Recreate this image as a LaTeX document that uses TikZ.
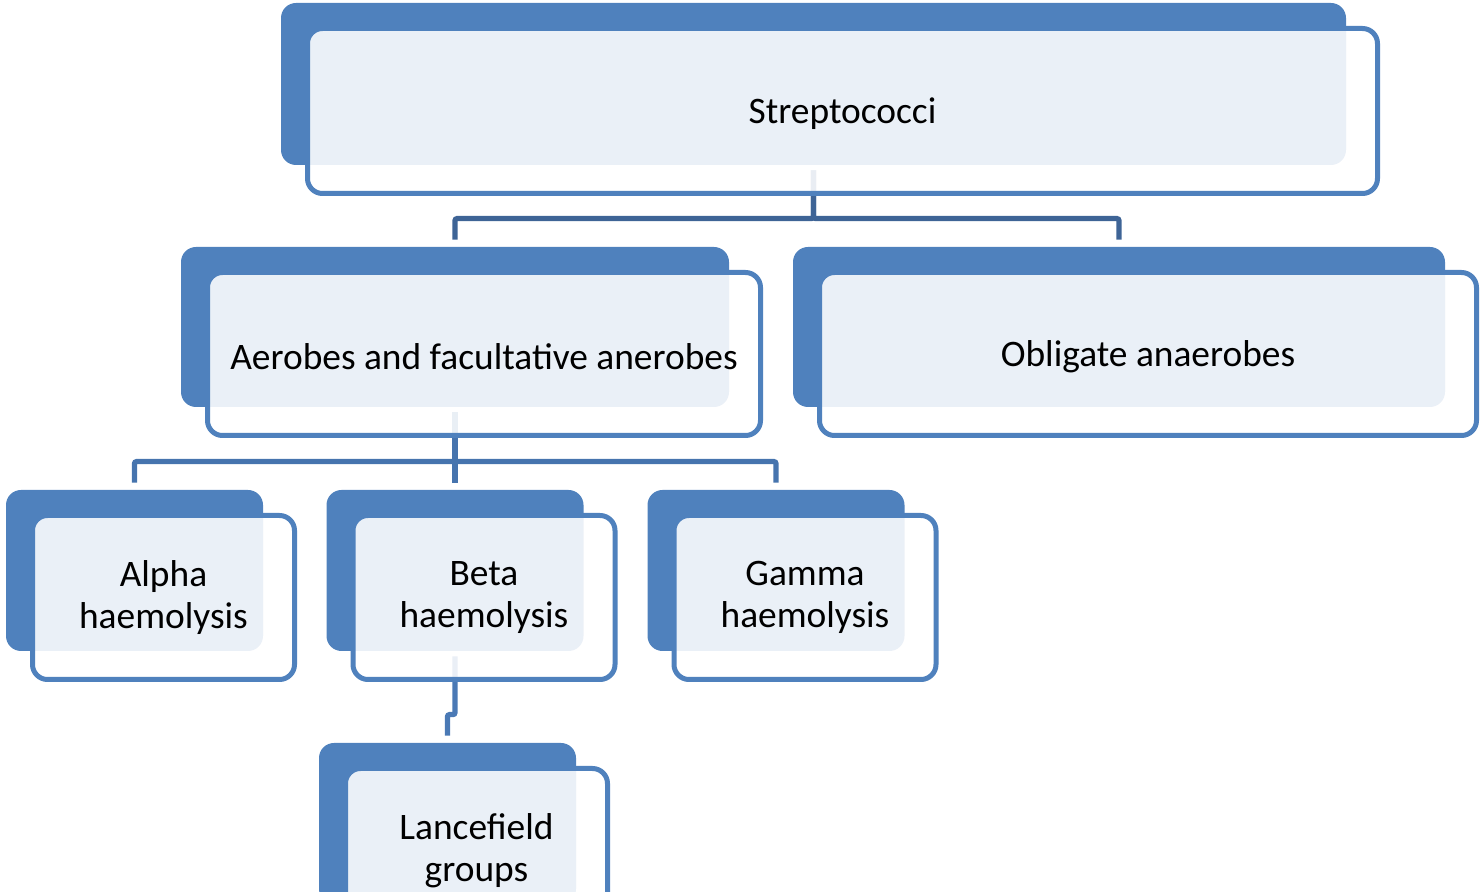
\documentclass[tikz,border=0pt]{standalone}
\usepackage{fontspec}
\setmainfont{Carlito}
\definecolor{boxblue}{RGB}{79,129,189}
\definecolor{linkone}{RGB}{62,100,150}
\definecolor{linktwo}{RGB}{70,116,174}
\definecolor{linkthree}{RGB}{74,121,181}

\begin{document}
\begin{tikzpicture}[x=0.5pt, y=-0.5pt,
	back/.style={rectangle, fill=boxblue, rounded corners=7.5pt, inner sep=0pt},
	front/.style={rectangle, draw=boxblue, line width=2.5pt, rounded corners=7.5pt, fill=white, fill opacity=0.885, text opacity=1, inner sep=0pt, align=center, font=\fontsize{18.7}{21}\selectfont, execute at begin node={\rule{0pt}{15.5pt}}, xshift=14.5pt, yshift=-13.5pt},
	link/.style={line width=2.6pt, rounded corners=1pt}]
					\clip (0,0) rectangle (1480,892);
					% back plates
					\node[back, minimum width=532.5pt, minimum height=81pt] (sb) at (813.5,84) {};
					\node[back, minimum width=274pt, minimum height=80pt] (ab) at (455,327) {};
					\node[back, minimum width=326pt, minimum height=80pt] (ob) at (1119,327) {};
					\node[back, minimum width=128.5pt, minimum height=80.5pt] (alb) at (134.5,570.5) {};
					\node[back, minimum width=128.5pt, minimum height=80.5pt] (bb) at (455,570.5) {};
					\node[back, minimum width=128.5pt, minimum height=80.5pt] (gb) at (776,570.5) {};
					\node[back, minimum width=128.5pt, minimum height=80.5pt] (lb) at (447.5,823.5) {};
					
					% connectors
					\draw[link, linkone] ([yshift=-2.5pt]sb.south) |- ([yshift=14pt]ab.north) -- ([yshift=3.5pt]ab.north);
					\draw[link, linkone] ([yshift=-2.5pt]sb.south) |- ([yshift=14pt]ob.north) -- ([yshift=3.5pt]ob.north);
					\draw[link, linktwo] ([yshift=-2.5pt]ab.south) |- ([yshift=14pt]alb.north) -- ([yshift=3.5pt]alb.north);
					\draw[link, linktwo] ([yshift=-2.5pt]ab.south) -- ([yshift=3.5pt]bb.north);
					\draw[link, linktwo] ([yshift=-2.5pt]ab.south) |- ([yshift=14pt]gb.north) -- ([yshift=3.5pt]gb.north);
					\draw[link, linkthree] ([yshift=-2.5pt]bb.south) |- ([yshift=14pt]lb.north) -- ([yshift=3.5pt]lb.north);
					
					% front frames
					\node[front, minimum width=535pt, minimum height=82.5pt] (s) at (sb) {Streptococci};
					\node[front, minimum width=276.5pt, minimum height=81.5pt] (a) at (ab) {Aerobes and facultative anerobes};
					\node[front, minimum width=328.5pt, minimum height=81.5pt] (o) at (ob) {Obligate anaerobes};
					\node[front, minimum width=131pt, minimum height=82pt] (al) at (alb) {Alpha\\haemolysis};
					\node[front, minimum width=131pt, minimum height=82pt] (b) at (bb) {Beta\\haemolysis};
					\node[front, minimum width=131pt, minimum height=82pt] (g) at (gb) {Gamma\\haemolysis};
					\node[front, minimum width=131pt, minimum height=82pt] (l) at (lb) {Lancefield\\groups};
\end{tikzpicture}
\end{document}
